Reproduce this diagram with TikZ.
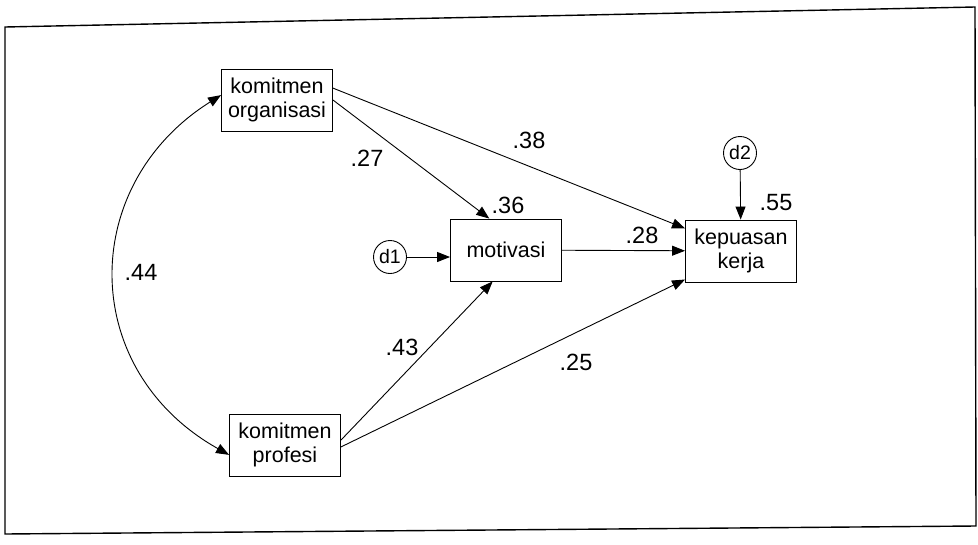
\documentclass[tikz,border=0pt]{standalone}
\usepackage{fontspec}
\setmainfont{Liberation Sans}
\usetikzlibrary{arrows.meta}

\begin{document}
\begin{tikzpicture}[x=1pt,y=-1pt,line width=0.9pt,
  box/.style={draw,minimum width=111pt,minimum height=62pt,align=center,inner sep=2pt,
    font=\fontsize{21.5}{23.5}\selectfont},
  err/.style={draw,circle,minimum size=33pt,inner sep=0pt,font=\fontsize{19.5}{22}\selectfont},
  lab/.style={font=\fontsize{23.5}{26}\selectfont,inner sep=0pt},
  arr/.style={-{Triangle[length=13pt,width=10pt]}}]
\useasboundingbox (0,0) rectangle (978,544);
\draw[line width=1.4pt] (5,27) -- (975,7) -- (976,526) -- (5,534) -- cycle;
\node[box] (org) at (277,100) {komitmen\\organisasi};
\node[box] (mot) at (506,250) {motivasi};
\node[box] (kep) at (741,251) {kepuasan\\kerja};
\node[box] (prof) at (285,445) {komitmen\\profesi};
\node[err] (d1) at (390,257) {d1};
\node[err] (d2) at (740,153) {d2};
\foreach \i/\v/\x/\y in {1/.38/529/140,2/.27/367/158,3/.36/508/205,4/.28/642/235,
    5/.55/776/203,6/.44/141/272,7/.43/402/347,8/.25/576/362} {
  \node[lab] (l\i) at (\x,\y) {\v};
}
\draw[arr] (org.12) -- (kep.158);
\draw[arr] (org.east) -- (mot.118);
\draw[arr] (d1) -- (d1 -| mot.west);
\draw[arr] (mot) -- (kep);
\draw[arr] (prof.5) -- (mot.247);
\draw[arr] (prof.-2) -- (kep.207);
\draw[arr] (d2) -- (kep);
\draw[{Triangle[length=13pt,width=10pt]}-{Triangle[length=13pt,width=10pt]}]
  (org.175) .. controls (78,185) and (78,370) .. (prof.190);
\end{tikzpicture}
\end{document}
